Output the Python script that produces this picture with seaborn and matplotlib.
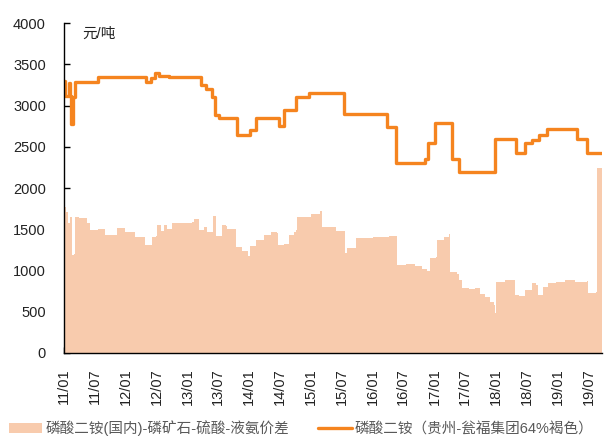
import pandas as pd
import matplotlib.pyplot as plt
import matplotlib.dates as mdates
from matplotlib.patches import Patch
from matplotlib.lines import Line2D
import seaborn as sns

# 磷酸二铵（贵州-瓮福集团64%褐色）价格，阶梯变化
line_dates = ['2011-01-01', '2011-01-07', '2011-01-28', '2011-02-05', '2011-02-12', '2011-02-25',
              '2011-03-04', '2011-07-20', '2012-05-01', '2012-05-28', '2012-06-22', '2012-07-15',
              '2012-09-15', '2013-03-22', '2013-04-20', '2013-05-25', '2013-06-12', '2013-07-06',
              '2013-10-21', '2014-01-06', '2014-02-12', '2014-06-27', '2014-07-27', '2014-10-06',
              '2014-12-21', '2015-07-15', '2016-03-28', '2016-05-21', '2016-11-04', '2016-11-21',
              '2017-01-03', '2017-04-12', '2017-05-24', '2017-12-25', '2018-04-28', '2018-06-19',
              '2018-08-01', '2018-09-10', '2018-10-28', '2019-04-22', '2019-06-21', '2019-09-20']
line_vals = [3300, 3120, 3270, 3120, 2780, 3100, 3290, 3350, 3290, 3340, 3390, 3360,
             3350, 3255, 3200, 3100, 2880, 2850, 2640, 2700, 2850, 2750, 2950, 3100,
             3150, 2900, 2740, 2300, 2350, 2540, 2790, 2350, 2190, 2600, 2430, 2540,
             2580, 2640, 2710, 2600, 2420, 2420]

# 价差（面积图）
area_dates = ['2011-01-01', '2011-01-13', '2011-01-25', '2011-02-06', '2011-02-18', '2011-02-28',
              '2011-03-04', '2011-03-28', '2011-05-15', '2011-06-03', '2011-07-19', '2011-08-25',
              '2011-09-01', '2011-11-04', '2011-11-10', '2011-12-22', '2011-12-28', '2012-02-19',
              '2012-02-25', '2012-04-19', '2012-04-25', '2012-05-28', '2012-06-04', '2012-06-28',
              '2012-07-04', '2012-07-28', '2012-08-15', '2012-09-03', '2012-10-01', '2012-12-12',
              '2013-01-28', '2013-02-10', '2013-03-10', '2013-04-10', '2013-04-28', '2013-05-25',
              '2013-06-01', '2013-06-13', '2013-06-19', '2013-07-19', '2013-07-25', '2013-08-18',
              '2013-08-24', '2013-10-10', '2013-10-16', '2013-11-21', '2013-12-25', '2014-01-07',
              '2014-02-12', '2014-04-01', '2014-05-10', '2014-06-15', '2014-06-21', '2014-07-27',
              '2014-08-25', '2014-09-25', '2014-10-06', '2014-10-12', '2014-12-10', '2015-01-04',
              '2015-02-21', '2015-03-03', '2015-03-09', '2015-05-18', '2015-05-31', '2015-07-16',
              '2015-07-22', '2015-08-04', '2015-09-15', '2015-09-27', '2015-12-24', '2016-01-01',
              '2016-03-28', '2016-04-10', '2016-05-21', '2016-05-27', '2016-07-19', '2016-09-06',
              '2016-10-22', '2016-11-15', '2016-12-03', '2017-01-09', '2017-01-15', '2017-03-01',
              '2017-03-31', '2017-04-06', '2017-05-12', '2017-05-24', '2017-06-16', '2017-07-27',
              '2017-08-27', '2017-09-25', '2017-10-25', '2017-11-24', '2017-12-18', '2017-12-24',
              '2018-01-01', '2018-02-21', '2018-04-03', '2018-04-21', '2018-05-19', '2018-06-18',
              '2018-07-31', '2018-08-24', '2018-09-04', '2018-09-28', '2018-10-04', '2018-11-03',
              '2018-12-19', '2019-02-12', '2019-04-10', '2019-06-21', '2019-06-27', '2019-08-13',
              '2019-08-19', '2019-09-20']
area_vals = [1770, 1710, 1570, 1650, 1190, 1200, 1650, 1640, 1580, 1490, 1500, 1500,
             1430, 1430, 1510, 1510, 1465, 1465, 1400, 1400, 1310, 1310, 1400, 1420,
             1550, 1480, 1550, 1500, 1570, 1580, 1590, 1620, 1490, 1525, 1465, 1465,
             1660, 1660, 1415, 1415, 1550, 1540, 1500, 1500, 1285, 1240, 1170, 1300,
             1370, 1430, 1465, 1460, 1310, 1320, 1430, 1470, 1490, 1650, 1650, 1680,
             1720, 1720, 1525, 1525, 1475, 1475, 1210, 1270, 1270, 1390, 1390, 1400,
             1400, 1420, 1420, 1065, 1080, 1060, 1020, 990, 1150, 1160, 1370, 1400,
             1440, 980, 960, 880, 790, 780, 790, 720, 680, 620, 580, 480,
             860, 880, 880, 700, 690, 760, 850, 820, 700, 700, 800, 850,
             860, 880, 860, 870, 730, 740, 2240, 2240]

tick_dates = pd.date_range('2011-01-01', '2019-07-01', freq='6MS')

line_df = pd.DataFrame({'date': pd.to_datetime(line_dates), 'price': line_vals})
area_df = pd.DataFrame({'date': pd.to_datetime(area_dates), 'spread': area_vals})

sns.set_style('white')
plt.rcParams['font.family'] = ['Liberation Sans', 'Noto Sans CJK SC', 'DejaVu Sans']

area_color = '#F8CBAD'
line_color = '#F5841F'

fig, ax = plt.subplots(figsize=(6.1, 4.45), dpi=100)
fig.subplots_adjust(left=0.105, right=0.987, top=0.948, bottom=0.207)

ax.fill_between(area_df['date'], area_df['spread'], step='post', color=area_color, linewidth=0)
sns.lineplot(data=line_df, x='date', y='price', color=line_color, linewidth=2.4,
             drawstyle='steps-post', ax=ax)

ax.set_xlim(line_df['date'].iloc[0], line_df['date'].iloc[-1])
ax.set_ylim(0, 4000)
ax.set_yticks(range(0, 4001, 500))
ax.set_xticks(tick_dates)
ax.xaxis.set_major_formatter(mdates.DateFormatter('%y/%m'))
ax.set_xlabel('')
ax.set_ylabel('')

ax.tick_params(axis='y', direction='in', length=4, width=1, pad=13, labelsize=10.5, colors='black',
               labelcolor='#222222', left=True)
ax.tick_params(axis='x', direction='in', length=4, width=1, pad=11, labelsize=10.5, colors='black',
               labelcolor='#222222', labelrotation=90, bottom=True)

for s in ['top', 'right']:
    ax.spines[s].set_visible(False)
for s in ['left', 'bottom']:
    ax.spines[s].set_color('black')
    ax.spines[s].set_linewidth(1)

ax.text(0.033, 0.99, '元/吨', transform=ax.transAxes, fontsize=10.5, color='#222222',
        ha='left', va='top')

handles = [Patch(facecolor=area_color, edgecolor='none'),
           Line2D([0], [0], color=line_color, linewidth=2.4)]
labels = ['磷酸二铵(国内)-磷矿石-硫酸-液氨价差', '磷酸二铵（贵州-瓮福集团64%褐色）']
fig.legend(handles, labels, loc='lower left', bbox_to_anchor=(0.0, 0.0), ncol=2, frameon=False,
           fontsize=10.5, labelcolor='#595959', handlelength=2.3, handletextpad=0.2,
           columnspacing=2.0, borderaxespad=0.2)

fig.savefig('out.png', dpi=100)
